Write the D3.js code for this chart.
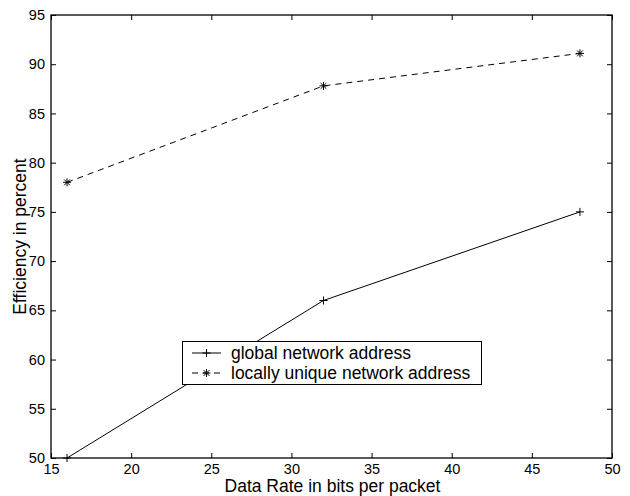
<!DOCTYPE html>
<html><head><meta charset="utf-8">
<script src="https://cdn.jsdelivr.net/npm/d3@7"></script>
<style>body{margin:0;background:#fff}svg{display:block}text{font-family:"Liberation Sans",Arial,Helvetica,sans-serif;fill:#000}</style>
</head><body>
<script>
const xValues = [16, 32, 48];
const globalAddr = [50, 66, 75];
const localAddr = [78, 87.8, 91.1];
const seriesNames = ["global network address", "locally unique network address"];
const xTicks = [15, 20, 25, 30, 35, 40, 45, 50];
const yTicks = [50, 55, 60, 65, 70, 75, 80, 85, 90, 95];
const xLabel = "Data Rate in bits per packet";
const yLabel = "Efficiency in percent";

const W = 630, H = 496;
const m = {l: 51, r: 18, t: 15, b: 38};
const svg = d3.select("body").append("svg").attr("width", W).attr("height", H);
const x = d3.scaleLinear().domain([15, 50]).range([m.l, W - m.r]);
const y = d3.scaleLinear().domain([50, 95]).range([H - m.b, m.t]);

// box
svg.append("rect").attr("x", x(15)).attr("y", y(95)).attr("width", x(50) - x(15)).attr("height", y(50) - y(95))
  .attr("fill", "none").attr("stroke", "#000").attr("stroke-width", 1.3);

const fs = "14.5px";
// axes with inward ticks
const tl = 5;
const gB = svg.append("g").attr("transform", `translate(0,${y(50)})`)
  .call(d3.axisBottom(x).tickValues(xTicks).tickSize(-tl).tickPadding(7).tickFormat(d3.format("d")));
const gT = svg.append("g").attr("transform", `translate(0,${y(95)})`)
  .call(d3.axisTop(x).tickValues(xTicks).tickSize(-tl).tickFormat(""));
const gL = svg.append("g").attr("transform", `translate(${x(15)},0)`)
  .call(d3.axisLeft(y).tickValues(yTicks).tickSize(-tl).tickPadding(6).tickFormat(d3.format("d")));
const gR = svg.append("g").attr("transform", `translate(${x(50)},0)`)
  .call(d3.axisRight(y).tickValues(yTicks).tickSize(-tl).tickFormat(""));
[gB, gT, gL, gR].forEach(g => {
  g.select(".domain").remove();
  g.selectAll("line").attr("stroke", "#000").attr("stroke-width", 1);
  g.selectAll("text").style("font-size", fs).attr("font-family", null);
});
gB.selectAll("text").attr("dy", "0.6em");

// axis labels
svg.append("text").attr("x", (x(15) + x(50)) / 2 + 1).attr("y", 492).attr("text-anchor", "middle")
  .style("font-size", "17.5px").text(xLabel);
svg.append("text").attr("transform", `translate(26,${(y(50) + y(95)) / 2}) rotate(-90)`).attr("text-anchor", "middle")
  .style("font-size", "17.5px").text(yLabel);

const line = d3.line().x((d, i) => x(xValues[i])).y(d => y(d));

function plus(g, cx, cy, s) {
  g.append("line").attr("x1", cx - s).attr("x2", cx + s).attr("y1", cy).attr("y2", cy);
  g.append("line").attr("x1", cx).attr("x2", cx).attr("y1", cy - s).attr("y2", cy + s);
}
function star(g, cx, cy, s) {
  plus(g, cx, cy, s);
  const d = s * 0.72;
  g.append("line").attr("x1", cx - d).attr("x2", cx + d).attr("y1", cy - d).attr("y2", cy + d);
  g.append("line").attr("x1", cx - d).attr("x2", cx + d).attr("y1", cy + d).attr("y2", cy - d);
}

const gp = svg.append("g");
gp.append("path").datum(globalAddr).attr("d", line).attr("fill", "none").attr("stroke", "#000").attr("stroke-width", 1);
gp.append("path").datum(localAddr).attr("d", line).attr("fill", "none").attr("stroke", "#000").attr("stroke-width", 1)
  .attr("stroke-dasharray", "6,5");
const mk = svg.append("g").attr("stroke", "#000").attr("stroke-width", 1);
globalAddr.forEach((v, i) => plus(mk, x(xValues[i]), y(v), 4));
localAddr.forEach((v, i) => star(mk, x(xValues[i]), y(v), 4));

// legend
const lg = svg.append("g");
lg.append("rect").attr("x", 182.5).attr("y", 341.5).attr("width", 299).attr("height", 43)
  .attr("fill", "#fff").attr("stroke", "#000").attr("stroke-width", 1);
const rows = [353, 373];
lg.append("line").attr("x1", 192).attr("x2", 221).attr("y1", rows[0]).attr("y2", rows[0]).attr("stroke", "#000");
lg.append("line").attr("x1", 192).attr("x2", 221).attr("y1", rows[1]).attr("y2", rows[1]).attr("stroke", "#000")
  .attr("stroke-dasharray", "6,5");
const lm = lg.append("g").attr("stroke", "#000");
plus(lm, 206.5, rows[0], 4);
star(lm, 206.5, rows[1], 4);
seriesNames.forEach((n, i) => lg.append("text").attr("x", 231).attr("y", rows[i]).attr("dy", "0.35em")
  .style("font-size", "17.5px").text(n));
</script>
</body></html>
